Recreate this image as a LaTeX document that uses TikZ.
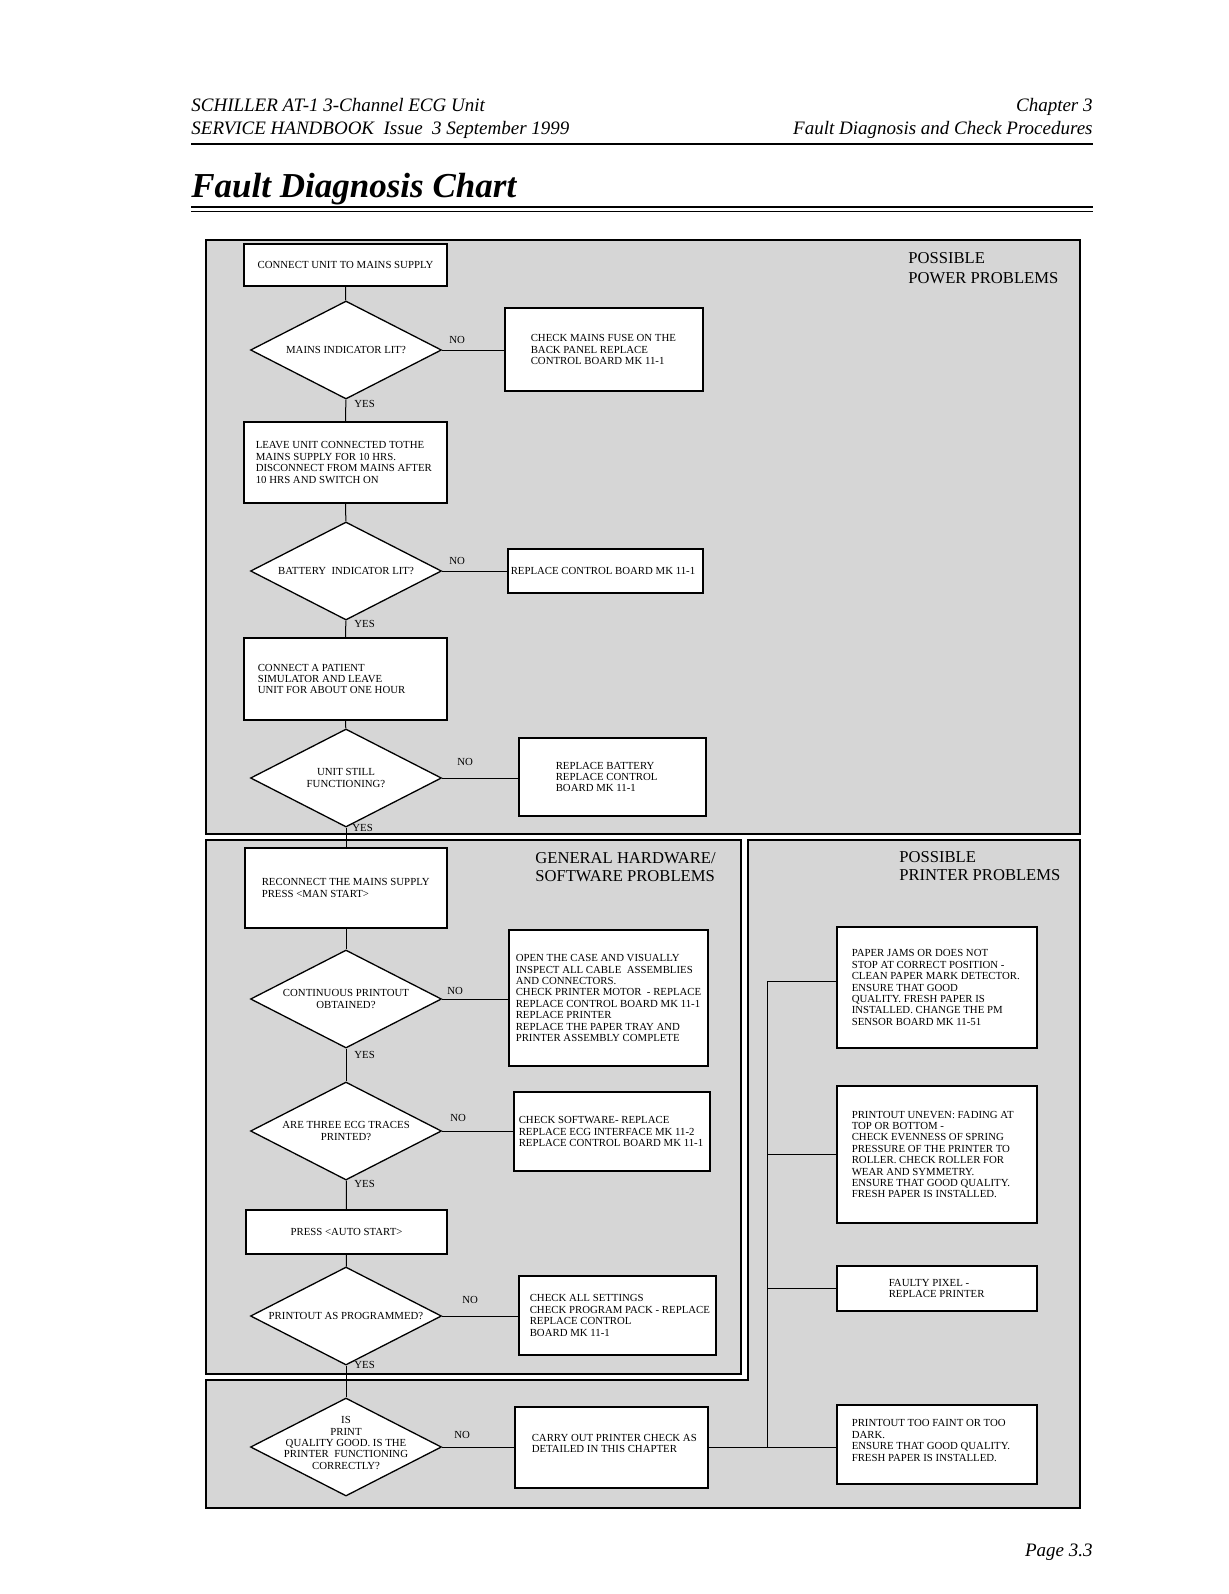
\documentclass[tikz,border=0pt]{standalone}
\usepackage{fontspec}
\setmainfont{Liberation Serif}
\usetikzlibrary{shapes.geometric,fit,calc}
\begin{document}
\begin{tikzpicture}[x=0.5pt,y=-0.5pt,
  sect/.style={draw=black,line width=0.7pt,fill=black!16},
  box/.style={draw=black,line width=0.65pt,fill=white,inner sep=0pt},
  dia/.style={draw=black,line width=0.65pt,fill=white,diamond,inner sep=0pt,minimum width=95.5pt,minimum height=49pt},
  txt/.style={inner sep=0pt,align=left,font=\fontsize{5.4}{5.7}\selectfont},
  ctxt/.style={inner sep=0pt,align=center,font=\fontsize{5.4}{5.7}\selectfont},
  lab/.style={inner sep=0pt,font=\fontsize{5.4}{5.7}\selectfont},
  conn/.style={draw=black,line width=0.5pt},
  stitle/.style={inner sep=0pt,align=left,font=\fontsize{8.3}{10.3}\selectfont},
  hdr/.style={inner sep=0pt,font=\fontsize{9.5}{11}\selectfont\itshape}
]
\useasboundingbox (0,0) rectangle (1229,1594);
\fill[white] (0,0) rectangle (1229,1594);

% header
\node[hdr,anchor=base west] (h1) at (191,112) {SCHILLER AT-1 3-Channel ECG Unit};
\node[hdr,anchor=base west] (h2) at (191,135) {SERVICE HANDBOOK\ \ Issue\ \ 3 September 1999};
\node[hdr,anchor=base east] (h3) at (1093,112) {Chapter 3};
\node[hdr,anchor=base east] (h4) at (1093,135) {Fault Diagnosis and Check Procedures};
\draw[line width=0.9pt] (191,144) -- (1093,144);
\node[inner sep=0pt,anchor=base west,font=\fontsize{17.5}{20}\selectfont\bfseries\itshape] (title) at (191,198) {Fault Diagnosis Chart};
\draw[line width=1.2pt] (191,207) -- (1093,207);
\draw[line width=0.5pt] (191,212) -- (1093,212);
\node[hdr,anchor=base east] (page) at (1093,1556) {Page 3.3};

% sections
\path[sect] (206,240) rectangle (1080,834);
\path[sect] (206,840) rectangle (741,1374);
\path[sect] (748,840) -- (1080,840) -- (1080,1508) -- (206,1508) -- (206,1380) -- (748,1380) -- cycle;

\node[stitle,anchor=west] (s1) at (908,268) {POSSIBLE\\POWER PROBLEMS};
\node[stitle,anchor=west,font=\fontsize{8.3}{9.2}\selectfont] (s2) at (535,867) {GENERAL HARDWARE/\\SOFTWARE PROBLEMS};
\node[stitle,anchor=west,font=\fontsize{8.3}{9.2}\selectfont] (s3) at (899,866) {POSSIBLE\\PRINTER PROBLEMS};

% power section
\node[box,fit={(244,244)(447,286)}] (A) {};
\node[ctxt] (At) at (A.center) {CONNECT UNIT TO MAINS SUPPLY};
\node[dia] (D1) at (346,350) {};
\node[ctxt] (D1t) at (D1.center) {MAINS INDICATOR LIT?};
\node[box,fit={(505,308)(703,391)}] (B) {};
\node[txt,anchor=west] (Bt) at ([xshift=13pt]B.west) {CHECK MAINS FUSE ON THE\\BACK PANEL REPLACE\\CONTROL BOARD MK 11-1};
\node[box,fit={(244,422)(447,503)}] (C) {};
\node[txt,anchor=west] (Ct) at ([xshift=6pt]C.west) {LEAVE UNIT CONNECTED TOTHE\\MAINS SUPPLY FOR 10 HRS.\\DISCONNECT FROM MAINS AFTER\\10 HRS AND SWITCH ON};
\node[dia] (D2) at (346,571) {};
\node[ctxt] (D2t) at (D2.center) {BATTERY\ \ INDICATOR LIT?};
\node[box,fit={(508,549)(703,593)}] (E) {};
\node[txt,anchor=west] (Et) at ([xshift=1.5pt]E.west) {REPLACE CONTROL BOARD MK 11-1};
\node[box,fit={(244,638)(447,720)}] (F) {};
\node[txt,anchor=west] (Ft) at ([xshift=7pt]F.west) {CONNECT A PATIENT\\SIMULATOR AND LEAVE\\UNIT FOR ABOUT ONE HOUR};
\node[dia] (D3) at (346,778) {};
\node[ctxt] (D3t) at (D3.center) {UNIT STILL\\FUNCTIONING?};
\node[box,fit={(519,738)(706,816)}] (G) {};
\node[txt,anchor=west] (Gt) at ([xshift=18.5pt]G.west) {REPLACE BATTERY\\REPLACE CONTROL\\BOARD MK 11-1};

% general section
\node[box,fit={(245,848)(447,928)}] (H) {};
\node[txt,anchor=west] (Ht) at ([xshift=8.5pt]H.west) {RECONNECT THE MAINS SUPPLY\\PRESS <MAN START>};
\node[dia] (D4) at (346,999) {};
\node[ctxt] (D4t) at (D4.center) {CONTINUOUS PRINTOUT\\OBTAINED?};
\node[box,fit={(509,930)(708,1066)}] (I) {};
\node[txt,anchor=west] (It) at ([xshift=3.5pt]I.west) {OPEN THE CASE AND VISUALLY\\INSPECT ALL CABLE\ \ ASSEMBLIES\\AND CONNECTORS.\\CHECK PRINTER MOTOR\ \ - REPLACE\\REPLACE CONTROL BOARD MK 11-1\\REPLACE PRINTER\\REPLACE THE PAPER TRAY AND\\PRINTER ASSEMBLY COMPLETE};
\node[dia] (D5) at (346,1131) {};
\node[ctxt] (D5t) at (D5.center) {ARE THREE ECG TRACES\\PRINTED?};
\node[box,fit={(514,1092)(710,1171)}] (J) {};
\node[txt,anchor=west] (Jt) at ([xshift=2.5pt]J.west) {CHECK SOFTWARE- REPLACE\\REPLACE ECG INTERFACE MK 11-2\\REPLACE CONTROL BOARD MK 11-1};
\node[box,fit={(246,1210)(447,1254)}] (K) {};
\node[ctxt] (Kt) at (K.center) {PRESS <AUTO START>};
\node[dia] (D6) at (346,1316) {};
\node[ctxt] (D6t) at (D6.center) {PRINTOUT AS PROGRAMMED?};
\node[box,fit={(519,1276)(716,1355)}] (L) {};
\node[txt,anchor=west] (Lt) at ([xshift=5.5pt]L.west) {CHECK ALL SETTINGS\\CHECK PROGRAM PACK - REPLACE\\REPLACE CONTROL\\BOARD MK 11-1};

% bottom section
\node[dia] (D7) at (346,1447) {};
\node[ctxt] (D7t) at ([yshift=2pt]D7.center) {IS\\PRINT\\QUALITY GOOD. IS THE\\PRINTER\ \ FUNCTIONING\\CORRECTLY?};
\node[box,fit={(515,1407)(708,1488)}] (M) {};
\node[txt,anchor=west] (Mt) at ([xshift=8.5pt,yshift=2pt]M.west) {CARRY OUT PRINTER CHECK AS\\DETAILED IN THIS CHAPTER};

% printer section
\node[box,fit={(837,927)(1037,1048)}] (N) {};
\node[txt,anchor=west] (Nt) at ([xshift=7.5pt]N.west) {PAPER JAMS OR DOES NOT\\STOP AT CORRECT POSITION -\\CLEAN PAPER MARK DETECTOR.\\ENSURE THAT GOOD\\QUALITY. FRESH PAPER IS\\INSTALLED. CHANGE THE PM\\SENSOR BOARD MK 11-51};
\node[box,fit={(837,1086)(1037,1223)}] (O) {};
\node[txt,anchor=west] (Ot) at ([xshift=7.5pt]O.west) {PRINTOUT UNEVEN: FADING AT\\TOP OR BOTTOM -\\CHECK EVENNESS OF SPRING\\PRESSURE OF THE PRINTER TO\\ROLLER. CHECK ROLLER FOR\\WEAR AND SYMMETRY.\\ENSURE THAT GOOD QUALITY.\\FRESH PAPER IS INSTALLED.};
\node[box,fit={(837,1266)(1037,1311)}] (P) {};
\node[txt,anchor=west] (Pt) at ([xshift=26pt]P.west) {FAULTY PIXEL -\\REPLACE PRINTER};
\node[box,fit={(837,1405)(1037,1484)}] (Q) {};
\node[txt,anchor=west] (Qt) at ([xshift=7.5pt,yshift=2pt]Q.west) {PRINTOUT TOO FAINT OR TOO\\DARK.\\ENSURE THAT GOOD QUALITY.\\FRESH PAPER IS INSTALLED.};

% vertical flow
\draw[conn] (A) -- (D1);
\draw[conn] (D1) -- (C);
\draw[conn] (C) -- (D2);
\draw[conn] (D2) -- (F);
\draw[conn] (F) -- (D3);
\draw[conn] (D3) -- (H);
\draw[conn] (H) -- (D4);
\draw[conn] (D4) -- (D5);
\draw[conn] (D5) -- (K);
\draw[conn] (K) -- (D6);
\draw[conn] (D6) -- (D7);

% NO branches
\draw[conn] (D1.east) -- (D1.east -| B.west);
\draw[conn] (D2.east) -- (D2.east -| E.west);
\draw[conn] (D3.east) -- (D3.east -| G.west);
\draw[conn] (D4.east) -- (D4.east -| I.west);
\draw[conn] (D5.east) -- (D5.east -| J.west);
\draw[conn] (D6.east) -- (D6.east -| L.west);
\draw[conn] (D7.east) -- (D7.east -| M.west);

% printer connectors
\coordinate (pv) at (767,982);
\coordinate (pn) at ($(N.west)+(0,-6)$);
\draw[conn] (pn) -- (pn -| pv) -- (M.east -| pv);
\draw[conn] (M.east) -- (M.east -| Q.west);
\draw[conn] (O.west) -- (O.west -| pv);
\draw[conn] (P.west) -- (P.west -| pv);

% labels
\node[lab,anchor=west] (n1) at (449,340) {NO};
\node[lab,anchor=west] (n2) at (449,561) {NO};
\node[lab,anchor=west] (n3) at (457,762) {NO};
\node[lab,anchor=west] (n4) at (447,991) {NO};
\node[lab,anchor=west] (n5) at (450,1118) {NO};
\node[lab,anchor=west] (n6) at (462,1300) {NO};
\node[lab,anchor=west] (n7) at (454,1435) {NO};
\node[lab,anchor=west] (y1) at (354,404) {YES};
\node[lab,anchor=west] (y2) at (354,624) {YES};
\node[lab,anchor=west] (y3) at (352,828) {YES};
\node[lab,anchor=west] (y4) at (354,1055) {YES};
\node[lab,anchor=west] (y5) at (354,1184) {YES};
\node[lab,anchor=west] (y6) at (354,1365) {YES};
\end{tikzpicture}
\end{document}
